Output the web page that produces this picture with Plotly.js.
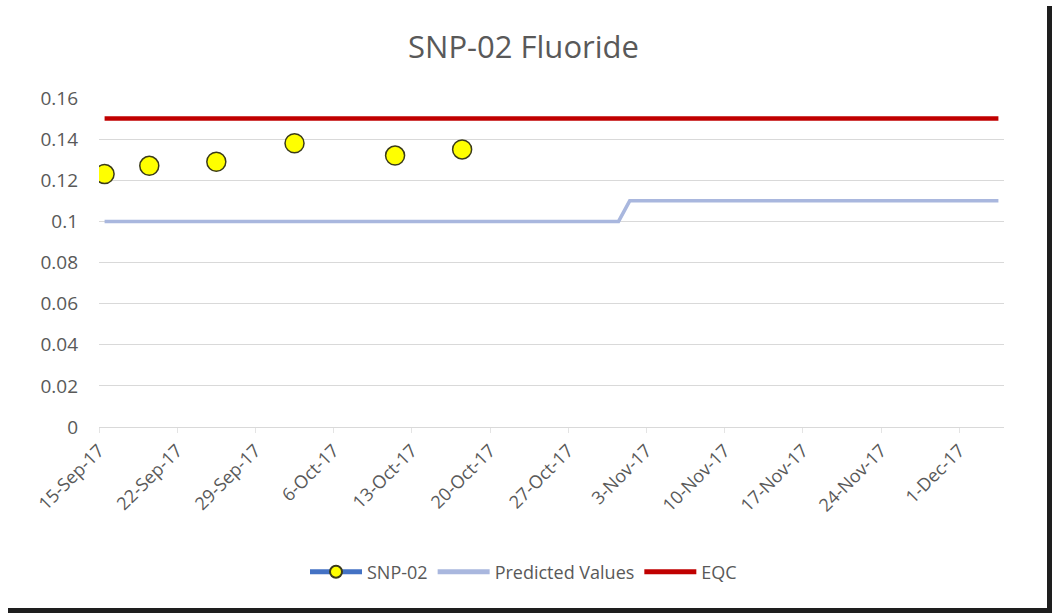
<!DOCTYPE html>
<html>
<head>
<meta charset="utf-8">
<script src="https://cdn.plot.ly/plotly-3.0.1.min.js"></script>
<style>
  html, body { margin: 0; padding: 0; background: #ffffff; width: 1056px; height: 613px; overflow: hidden; position: relative; }
  #chart { position: absolute; left: 0; top: 0; width: 1047px; height: 608px; }
  #bRight { position: absolute; left: 1047px; top: 6px; width: 5px; height: 607px; background: #1e1e1e; }
  #bBottom { position: absolute; left: 8px; top: 608px; width: 1044px; height: 5px; background: #1e1e1e; }
</style>
</head>
<body>
<div id="chart"></div>
<div id="bRight"></div>
<div id="bBottom"></div>
<script>
// Data
const snpDates  = ['2017-09-15', '2017-09-19', '2017-09-25', '2017-10-02', '2017-10-11', '2017-10-17'];
const snpValues = [0.123, 0.127, 0.129, 0.138, 0.132, 0.135];

const predDates  = ['2017-09-15', '2017-10-31', '2017-11-01', '2017-12-04'];
const predValues = [0.10, 0.10, 0.11, 0.11];

const eqcDates  = ['2017-09-15', '2017-12-04'];
const eqcValues = [0.15, 0.15];

const yTickVals = [0, 0.02, 0.04, 0.06, 0.08, 0.10, 0.12, 0.14, 0.16];
const yTickText = ['0', '0.02', '0.04', '0.06', '0.08', '0.1', '0.12', '0.14', '0.16'];

// SNP-02: unconnected points (gaps between samples), like the Excel series
const snpX = [], snpY = [];
snpDates.forEach((d, i) => {
  snpX.push(d); snpY.push(snpValues[i]);
  if (i < snpDates.length - 1) { snpX.push(d); snpY.push(null); }
});

const DAY = 86400000;
const font = 'Open Sans, Liberation Sans, sans-serif';
const gray = '#595959';

const traces = [
  {
    name: 'SNP-02', x: snpX, y: snpY, type: 'scatter', mode: 'lines+markers',
    connectgaps: false, xperiod: DAY, xperiodalignment: 'middle',
    line: { color: '#4472C4', width: 4 },
    marker: { size: 19, color: '#FFFF00', line: { color: '#3a3a1a', width: 1.5 } },
    hoverinfo: 'x+y'
  },
  {
    name: 'Predicted Values', x: predDates, y: predValues, type: 'scatter', mode: 'lines',
    xperiod: DAY, xperiodalignment: 'middle',
    line: { color: '#A9B7DE', width: 3.5 }
  },
  {
    name: 'EQC', x: eqcDates, y: eqcValues, type: 'scatter', mode: 'lines',
    xperiod: DAY, xperiodalignment: 'middle',
    line: { color: '#C00000', width: 4.5 }
  }
];

const layout = {
  width: 1047, height: 608,
  margin: { l: 99, r: 43, t: 98, b: 181 },
  paper_bgcolor: '#ffffff', plot_bgcolor: '#ffffff',
  font: { family: font, color: gray },
  title: {
    text: 'SNP-02 Fluoride',
    font: { family: font, size: 31, color: gray },
    x: 0.5, xanchor: 'center', xref: 'container',
    y: 1 - 47 / 608, yanchor: 'middle', yref: 'container'
  },
  xaxis: {
    type: 'date',
    range: ['2017-09-15', '2017-12-05'],
    tick0: '2017-09-15', dtick: 7 * DAY,
    tickformat: '%-d-%b-%y', tickangle: -45,
    tickfont: { family: font, size: 18, color: gray },
    showgrid: false, showline: true, linecolor: '#D9D9D9', linewidth: 1,
    ticks: 'outside', ticklen: 5, tickcolor: '#E4E4E4',
    zeroline: false, fixedrange: true
  },
  yaxis: {
    range: [0, 0.16],
    tickvals: yTickVals, ticktext: yTickText,
    tickfont: { family: font, size: 19, color: gray },
    showgrid: true, gridcolor: '#D9D9D9', gridwidth: 1,
    zeroline: false, showline: false, ticks: '',
    ticklabelstandoff: 20, fixedrange: true
  },
  showlegend: true,
  legend: {
    orientation: 'h', x: 0.5, xanchor: 'center', xref: 'container',
    y: 1 - 572 / 608, yanchor: 'middle', yref: 'container',
    font: { family: font, size: 18, color: gray },
    itemwidth: 52, itemsizing: 'constant', tracegroupgap: 0
  }
};

Plotly.newPlot('chart', traces, layout, { displayModeBar: false, staticPlot: true });
</script>
</body>
</html>
